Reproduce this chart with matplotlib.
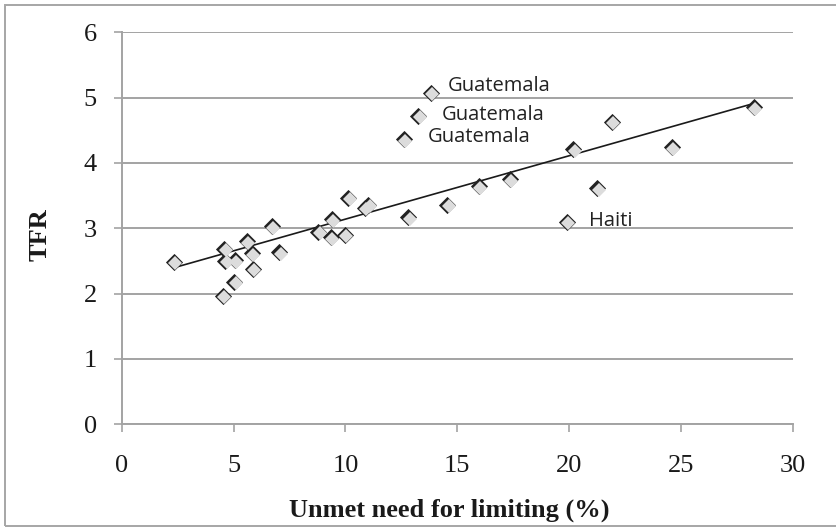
import numpy as np
import matplotlib
matplotlib.use("Agg")
import matplotlib.pyplot as plt
import matplotlib.transforms as mtransforms
from matplotlib.patches import Rectangle

plt.rcParams["font.family"] = "serif"
plt.rcParams["font.serif"] = ["Liberation Serif", "DejaVu Serif"]

# ---- data ----
unmet_limiting = [2.34, 4.58, 4.63, 5.07, 5.59, 5.81, 5.85, 5.03, 4.51, 6.71, 7.05,
                  8.79, 9.39, 9.36, 9.98, 10.13, 10.88, 11.02,
                  13.81, 13.26, 12.62, 12.81, 14.56, 15.97, 17.36, 19.89,
                  20.19, 21.26, 21.90, 24.59, 28.27]
tfr = [2.49, 2.69, 2.50, 2.51, 2.80, 2.62, 2.38, 2.18, 1.97, 3.03, 2.63,
       2.95, 3.14, 2.86, 2.90, 3.47, 3.31, 3.36,
       5.07, 4.72, 4.36, 3.17, 3.36, 3.64, 3.75, 3.10,
       4.21, 3.61, 4.63, 4.24, 4.85]
label_names = ["Guatemala", "Guatemala", "Guatemala", "Haiti"]
label_index = [18, 19, 20, 25]
label_offsets_px = [(17, 7), (23, 1), (24, 2), (22, 1)]

x_ticks = [0, 5, 10, 15, 20, 25, 30]
y_ticks = [0, 1, 2, 3, 4, 5, 6]

W, H, DPI = 837, 528, 100
fig = plt.figure(figsize=(W / DPI, H / DPI), dpi=DPI)
fig.patch.set_facecolor("white")

# axes placement in pixels
ax_l, ax_r, ax_t, ax_b = 121.7, 792.7, 32.3, 424.3
ax = fig.add_axes([ax_l / W, 1 - ax_b / H, (ax_r - ax_l) / W, (ax_b - ax_t) / H])

grid_col = "#a3a3a3"
for s in ["top", "right"]:
    ax.spines[s].set_visible(False)
for s in ["left", "bottom"]:
    ax.spines[s].set_color(grid_col)
    ax.spines[s].set_linewidth(1.4)

ax.set_xlim(0, 30)
ax.set_ylim(0, 6)
ax.set_xticks(x_ticks)
ax.set_yticks(y_ticks)
ax.set_xticklabels([str(v) for v in x_ticks])
ax.set_yticklabels([str(v) for v in y_ticks])
ax.yaxis.grid(True, color=grid_col, linewidth=1.4)
ax.set_axisbelow(True)
ax.tick_params(axis="both", direction="out", length=6, width=1.2, color=grid_col,
               labelsize=19, labelcolor="#1a1a1a")
ax.tick_params(axis="x", pad=16)
ax.tick_params(axis="y", pad=12)

# trend line (least squares from the data)
xs = np.array(unmet_limiting)
ys = np.array(tfr)
b1, b0 = np.polyfit(xs, ys, 1)
xl = np.array([xs.min(), xs.max()])
ax.plot(xl, b0 + b1 * xl, color="#1a1a1a", linewidth=1.2, zorder=3)

# shaded diamond markers: dark diamond + light diamond shifted down-right
ax.plot(xs, ys, linestyle="none", marker="D", markersize=8,
        markerfacecolor="#222222", markeredgecolor="#222222", markeredgewidth=0.6, zorder=4)
shift = mtransforms.offset_copy(ax.transData, fig=fig, x=1.4, y=-1.4, units="dots")
ax.plot(xs, ys, linestyle="none", marker="D", markersize=7.6,
        markerfacecolor="#dcdcdc", markeredgecolor="#dcdcdc", markeredgewidth=0.0,
        transform=shift, zorder=5)

# country labels
for name, idx, (dx, dy) in zip(label_names, label_index, label_offsets_px):
    ax.annotate(name, (xs[idx], ys[idx]), xytext=(dx * 0.72, dy * 0.72),
                textcoords="offset points", ha="left", va="center",
                fontsize=14.5, fontfamily="Open Sans", color="#222222", zorder=6)

# axis titles
fig.text(449 / W, 1 - 510 / H, "Unmet need for limiting (%)", ha="center", va="center",
         fontsize=19, fontweight="bold", color="#1a1a1a")
fig.text(40 / W, 1 - 235 / H, "TFR", ha="center", va="center", rotation=90,
         fontsize=19, fontweight="bold", color="#1a1a1a")

# outer chart frame
frame = Rectangle((5 / W, 1 - 526 / H), (W + 10) / W, (526 - 4.7) / H,
                  transform=fig.transFigure, fill=False, edgecolor="#a6a6a6",
                  linewidth=1.4, clip_on=False)
fig.patches.append(frame)

fig.savefig("out.png", dpi=DPI, facecolor="white")
